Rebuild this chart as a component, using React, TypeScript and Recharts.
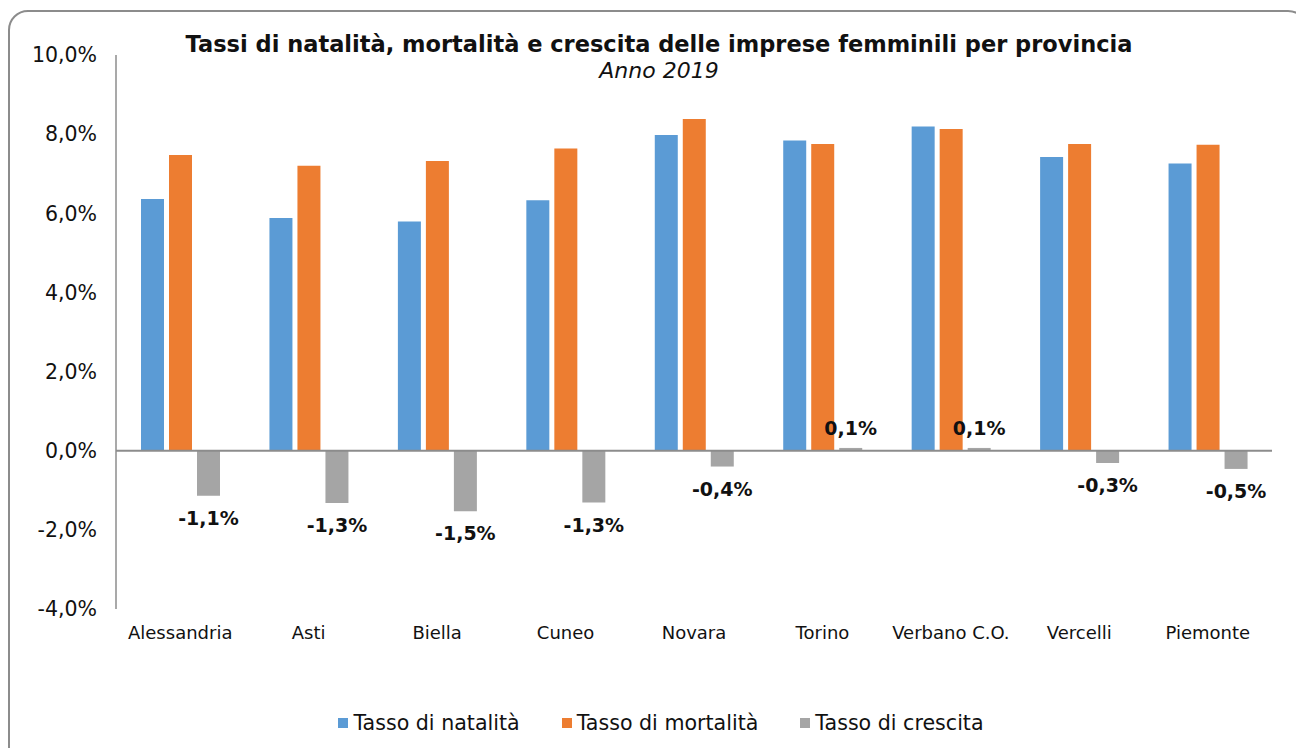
import React from 'react';
import { BarChart, Bar, XAxis, YAxis, ReferenceLine, Legend, LabelList } from 'recharts';

const categories = ['Alessandria', 'Asti', 'Biella', 'Cuneo', 'Novara', 'Torino', 'Verbano C.O.', 'Vercelli', 'Piemonte'];
const natalita = [6.36, 5.88, 5.79, 6.33, 7.98, 7.84, 8.19, 7.42, 7.26];
const mortalita = [7.47, 7.2, 7.32, 7.64, 8.38, 7.75, 8.13, 7.75, 7.73];
const crescita = [-1.14, -1.32, -1.53, -1.31, -0.4, 0.07, 0.07, -0.31, -0.46];
const yTicks = [-4, -2, 0, 2, 4, 6, 8, 10];

const seriesNames = ['Tasso di natalità', 'Tasso di mortalità', 'Tasso di crescita'];
const colors = ['#5B9BD5', '#ED7D31', '#A5A5A5'];

const data = categories.map((c, i) => ({
  name: c,
  nat: natalita[i],
  mort: mortalita[i],
  cresc: crescita[i],
}));

const FONT = '"DejaVu Sans", Verdana, sans-serif';

const fmt = (v: number) => v.toFixed(1).replace('.', ',') + '%';

const GrowthLabel = (props: any) => {
  const { x, y, width, height, value } = props;
  const top = Math.min(y, y + height);
  const bottom = Math.max(y, y + height);
  const cx = x + width / 2;
  const ty = value < 0 ? bottom + 22 : top - 20;
  return (
    <text x={cx} y={ty} textAnchor="middle" dominantBaseline="central" fontFamily={FONT} fontWeight="bold" fontSize={19} fill="#111">
      {fmt(value)}
    </text>
  );
};

const LegendContent = () => (
  <div style={{ display: 'flex', justifyContent: 'center', alignItems: 'center', fontFamily: FONT, fontSize: 20.6, color: '#111', height: 30, paddingLeft: 34 }}>
    {seriesNames.map((n, i) => (
      <div key={n} style={{ display: 'flex', alignItems: 'center', marginRight: i < 2 ? 42 : 0 }}>
        <span style={{ display: 'inline-block', width: 10, height: 10, background: colors[i], marginRight: 5 }} />
        <span>{n}</span>
      </div>
    ))}
  </div>
);

export default function App() {
  return (
    <div style={{ position: 'fixed', left: 0, top: 0, width: 1296, height: 748, overflow: 'hidden', background: '#fff' }}>
      <div style={{ position: 'absolute', left: 8, top: 10, width: 1300, height: 800, border: '2px solid #8c8c8c', borderRadius: 20, boxSizing: 'border-box' }} />
      <div style={{ position: 'absolute', left: 0, top: 30, width: 1318, textAlign: 'center', fontFamily: FONT, fontWeight: 'bold', fontSize: 22.5, color: '#111', lineHeight: '28px' }}>
        Tassi di natalità, mortalità e crescita delle imprese femminili per provincia
      </div>
      <div style={{ position: 'absolute', left: 0, top: 58, width: 1318, textAlign: 'center', fontFamily: FONT, fontStyle: 'italic', fontSize: 22, color: '#111', lineHeight: '26px' }}>
        Anno 2019
      </div>
      <div style={{ position: 'absolute', left: 0, top: 0 }}>
        <BarChart
          width={1296}
          height={748}
          data={data}
          margin={{ top: 55, right: 24, left: 16, bottom: 10 }}
          barSize={23}
          barGap={5}
        >
          <XAxis
            dataKey="name"
            axisLine={false}
            tickLine={false}
            tickSize={0}
            tickMargin={17}
            height={99}
            interval={0}
            tick={{ fontFamily: FONT, fontSize: 18, fill: '#111' }}
          />
          <YAxis
            domain={[-4, 10]}
            ticks={yTicks}
            tickFormatter={fmt}
            width={100}
            tickLine={false}
            tickSize={0}
            tickMargin={19}
            axisLine={{ stroke: '#8c8c8c', strokeWidth: 1.5 }}
            tick={{ fontFamily: FONT, fontSize: 20.5, fill: '#111' }}
          />
          <ReferenceLine y={0} stroke="#8c8c8c" strokeWidth={2} />
          <Legend verticalAlign="bottom" height={30} content={<LegendContent />} />
          <Bar dataKey="nat" name={seriesNames[0]} fill={colors[0]} isAnimationActive={false} />
          <Bar dataKey="mort" name={seriesNames[1]} fill={colors[1]} isAnimationActive={false} />
          <Bar dataKey="cresc" name={seriesNames[2]} fill={colors[2]} isAnimationActive={false}>
            <LabelList dataKey="cresc" content={<GrowthLabel />} />
          </Bar>
        </BarChart>
      </div>
    </div>
  );
}
